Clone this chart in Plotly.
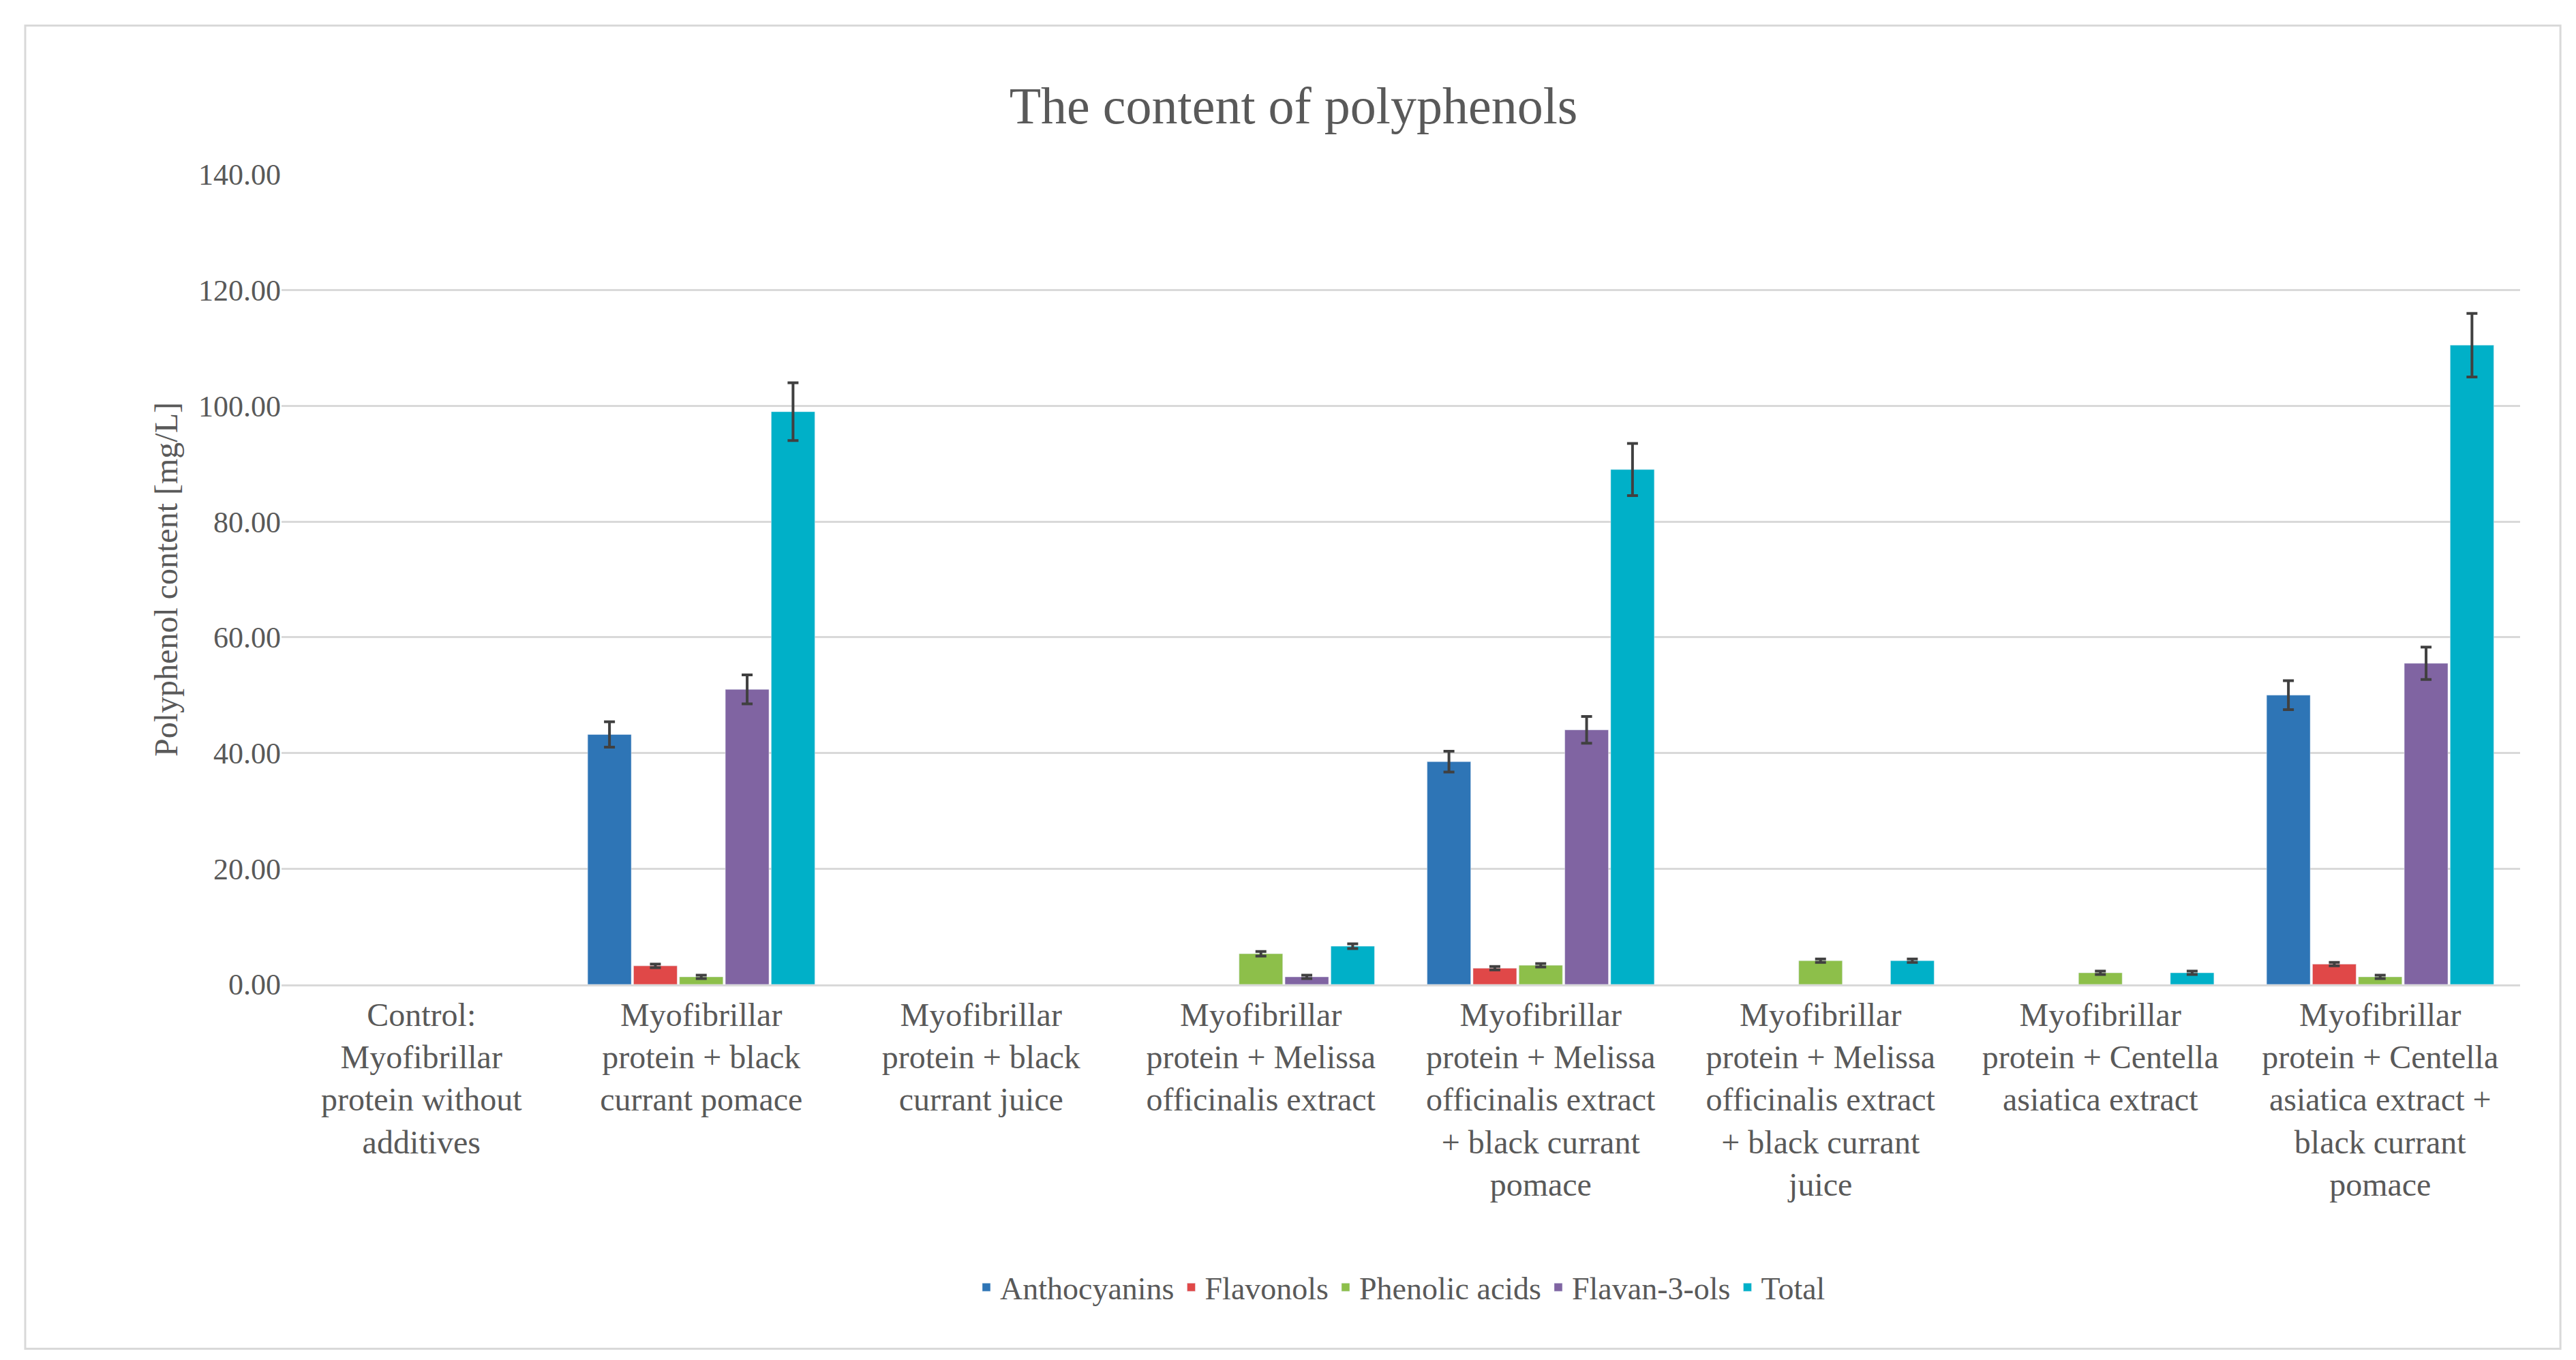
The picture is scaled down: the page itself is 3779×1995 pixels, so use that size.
import plotly.graph_objects as go

categories = [
    "Control:<br>Myofibrillar<br>protein without<br>additives",
    "Myofibrillar<br>protein + black<br>currant pomace",
    "Myofibrillar<br>protein + black<br>currant juice",
    "Myofibrillar<br>protein + Melissa<br>officinalis extract",
    "Myofibrillar<br>protein + Melissa<br>officinalis extract<br>+ black currant<br>pomace",
    "Myofibrillar<br>protein + Melissa<br>officinalis extract<br>+ black currant<br>juice",
    "Myofibrillar<br>protein + Centella<br>asiatica extract",
    "Myofibrillar<br>protein + Centella<br>asiatica extract +<br>black currant<br>pomace",
]

# None = not detected (no bar, no error bar)
anthocyanins = [None, 43.2, None, None, 38.5, None, None, 50.0]
anthocyanins_err = [0, 2.2, 0, 0, 1.8, 0, 0, 2.5]
flavonols = [None, 3.2, None, None, 2.8, None, None, 3.5]
flavonols_err = [0, 0.3, 0, 0, 0.3, 0, 0, 0.3]
phenolic = [None, 1.3, None, 5.3, 3.3, 4.1, 2.0, 1.3]
phenolic_err = [0, 0.3, 0, 0.4, 0.3, 0.3, 0.3, 0.3]
flavanols = [None, 51.0, None, 1.3, 44.0, None, None, 55.5]
flavanols_err = [0, 2.5, 0, 0.3, 2.3, 0, 0, 2.8]
total = [None, 99.0, None, 6.6, 89.0, 4.1, 2.0, 110.5]
total_err = [0, 5.0, 0, 0.4, 4.5, 0.3, 0.3, 5.5]

series = [
    ("Anthocyanins", anthocyanins, anthocyanins_err, "#2E75B6"),
    ("Flavonols", flavonols, flavonols_err, "#E04848"),
    ("Phenolic acids", phenolic, phenolic_err, "#8DBF4A"),
    ("Flavan-3-ols", flavanols, flavanols_err, "#8064A2"),
    ("Total", total, total_err, "#00B0C8"),
]

fig = go.Figure()
for name, vals, err, col in series:
    fig.add_trace(go.Bar(
        name=name, x=categories, y=vals, marker_color=col,
        error_y=dict(type="data", array=err, visible=True, color="#404040",
                     thickness=4, width=8),
    ))

font = "Liberation Serif, Times New Roman, serif"
fig.update_layout(
    width=3779, height=1995,
    barmode="group", bargap=0.18, bargroupgap=0.05,
    paper_bgcolor="white", plot_bgcolor="white",
    font=dict(family=font, size=44, color="#595959"),
    title=dict(text="The content of polyphenols", x=0.5, xanchor="center",
               y=0.94, font=dict(size=76, color="#595959")),
    margin=dict(l=405, r=90, t=248, b=559),
    legend=dict(orientation="h", x=0.5, xanchor="center", y=-0.374,
                yanchor="middle", font=dict(size=46)),
    xaxis=dict(tickfont=dict(size=48), showline=True, linecolor="#D9D9D9",
               linewidth=3, automargin=False),
    yaxis=dict(range=[0, 140], dtick=20, tickformat=".2f", automargin=False,
               gridcolor="#D9D9D9", gridwidth=3, zeroline=False,
               title=dict(text="Polyphenol content [mg/L]", font=dict(size=48))),
    shapes=[dict(type="rect", xref="paper", yref="paper",
                 x0=-0.1145, x1=1.018, y0=-0.45, y1=1.184,
                 line=dict(color="#D9D9D9", width=3))],
)

fig.write_html("out.html")
